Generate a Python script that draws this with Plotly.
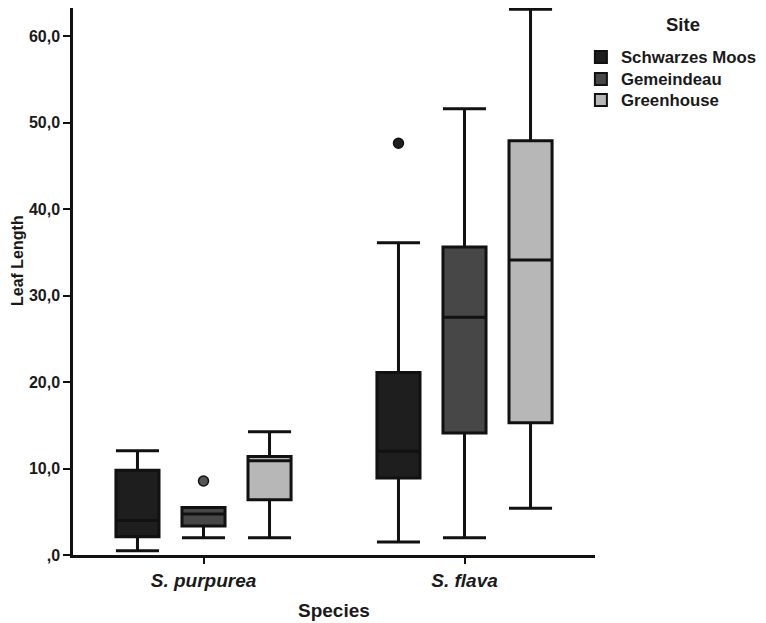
import plotly.graph_objects as go

species = ["S. purpurea", "S. flava"]
sites = ["Schwarzes Moos", "Gemeindeau", "Greenhouse"]
colors = ["#1e1e1e", "#474747", "#b7b7b7"]

# per site: values for [S. purpurea, S. flava]
lowerfence = {"Schwarzes Moos": [0.5, 1.5], "Gemeindeau": [2.0, 2.0], "Greenhouse": [2.0, 5.4]}
q1 = {"Schwarzes Moos": [2.1, 8.9], "Gemeindeau": [3.35, 14.1], "Greenhouse": [6.4, 15.3]}
median = {"Schwarzes Moos": [4.0, 12.0], "Gemeindeau": [4.75, 27.5], "Greenhouse": [10.9, 34.1]}
q3 = {"Schwarzes Moos": [9.8, 21.1], "Gemeindeau": [5.5, 35.6], "Greenhouse": [11.4, 47.9]}
upperfence = {"Schwarzes Moos": [12.05, 36.1], "Gemeindeau": [5.5, 51.6], "Greenhouse": [14.25, 63.1]}
# outliers: (species index, value)
outliers = {"Schwarzes Moos": [(1, 47.6)], "Gemeindeau": [(0, 8.55)], "Greenhouse": []}
outlier_colors = {"Schwarzes Moos": "#1e1e1e", "Gemeindeau": "#555555", "Greenhouse": "#b7b7b7"}

tick_vals = [0, 10, 20, 30, 40, 50, 60]
tick_text = [",0", "10,0", "20,0", "30,0", "40,0", "50,0", "60,0"]

group_offset = 0.253
box_width = 0.165

legend_names = ["legend", "legend2", "legend3"]
legend_rows_px = [57, 79, 100]  # page y of legend rows

fig = go.Figure()
for j, s in enumerate(sites):
    xs = [i + (j - 1) * group_offset for i in range(len(species))]
    fig.add_trace(go.Box(
        x=xs, q1=q1[s], median=median[s], q3=q3[s],
        lowerfence=lowerfence[s], upperfence=upperfence[s],
        width=box_width, whiskerwidth=1.0,
        fillcolor=colors[j], line=dict(color="#111111", width=3),
        boxpoints=False, showlegend=False, name=s, hoverinfo="skip",
    ))
    if outliers[s]:
        fig.add_trace(go.Scatter(
            x=[o[0] + (j - 1) * group_offset for o in outliers[s]],
            y=[o[1] for o in outliers[s]],
            mode="markers", showlegend=False,
            marker=dict(size=10, color=outlier_colors[s], line=dict(color="#111111", width=1.5)),
        ))
    # legend entry
    fig.add_trace(go.Scatter(
        x=[None], y=[None], mode="markers", name=f"<b>{s}</b>", showlegend=True,
        legend=legend_names[j],
        marker=dict(symbol="square", size=18, color=colors[j], line=dict(color="#111111", width=2)),
    ))

font_main = "Liberation Sans, Arial, sans-serif"
plot_w = 766 - 65 - 179
plot_h = 623 - 0 - 76


def legend_cfg(row_px):
    return dict(
        x=0.973, xanchor="left", y=(555 - row_px) / plot_h, yanchor="middle",
        font=dict(size=16.8, family=font_main),
        itemsizing="constant", bgcolor="rgba(0,0,0,0)",
    )


fig.update_layout(
    width=766, height=623,
    paper_bgcolor="white", plot_bgcolor="white",
    margin=dict(l=65, r=179, t=0, b=76),
    font=dict(family=font_main, size=14, color="#1a1a1a"),
    boxmode="overlay",
    legend=legend_cfg(legend_rows_px[0]),
    legend2=legend_cfg(legend_rows_px[1]),
    legend3=legend_cfg(legend_rows_px[2]),
    xaxis=dict(
        range=[-0.5, 1.5], tickvals=list(range(len(species))),
        ticktext=[f"<b><i>{s}</i></b>" for s in species],
        showline=True, linecolor="#111111", linewidth=2.5,
        ticks="outside", ticklen=6, tickwidth=2, tickcolor="#111111",
        showgrid=False, zeroline=False, automargin=False,
        tickfont=dict(size=19),
    ),
    yaxis=dict(
        range=[0, 63.24], tickvals=tick_vals, ticktext=[f"<b>{t}</b>" for t in tick_text],
        showline=True, linecolor="#111111", linewidth=2.5,
        ticks="outside", ticklen=7, tickwidth=2, tickcolor="#111111",
        showgrid=False, zeroline=False, automargin=False,
        tickfont=dict(size=16),
    ),
    annotations=[
        dict(text="<b>Leaf Length</b>", xref="paper", yref="paper", x=(17 - 73) / plot_w, y=(555 - 261) / plot_h,
             xanchor="center", yanchor="middle", textangle=-90, showarrow=False,
             font=dict(size=16)),
        dict(text="<b>Species</b>", xref="paper", yref="paper", x=0.5, y=(555 - 610) / plot_h,
             xanchor="center", yanchor="middle", showarrow=False, font=dict(size=19)),
        dict(text="<b>Site</b>", xref="paper", yref="paper", x=(683 - 73) / plot_w, y=(555 - 25) / plot_h,
             xanchor="center", yanchor="middle", showarrow=False, font=dict(size=18.5)),
    ],
)

fig.write_html("out.html")
